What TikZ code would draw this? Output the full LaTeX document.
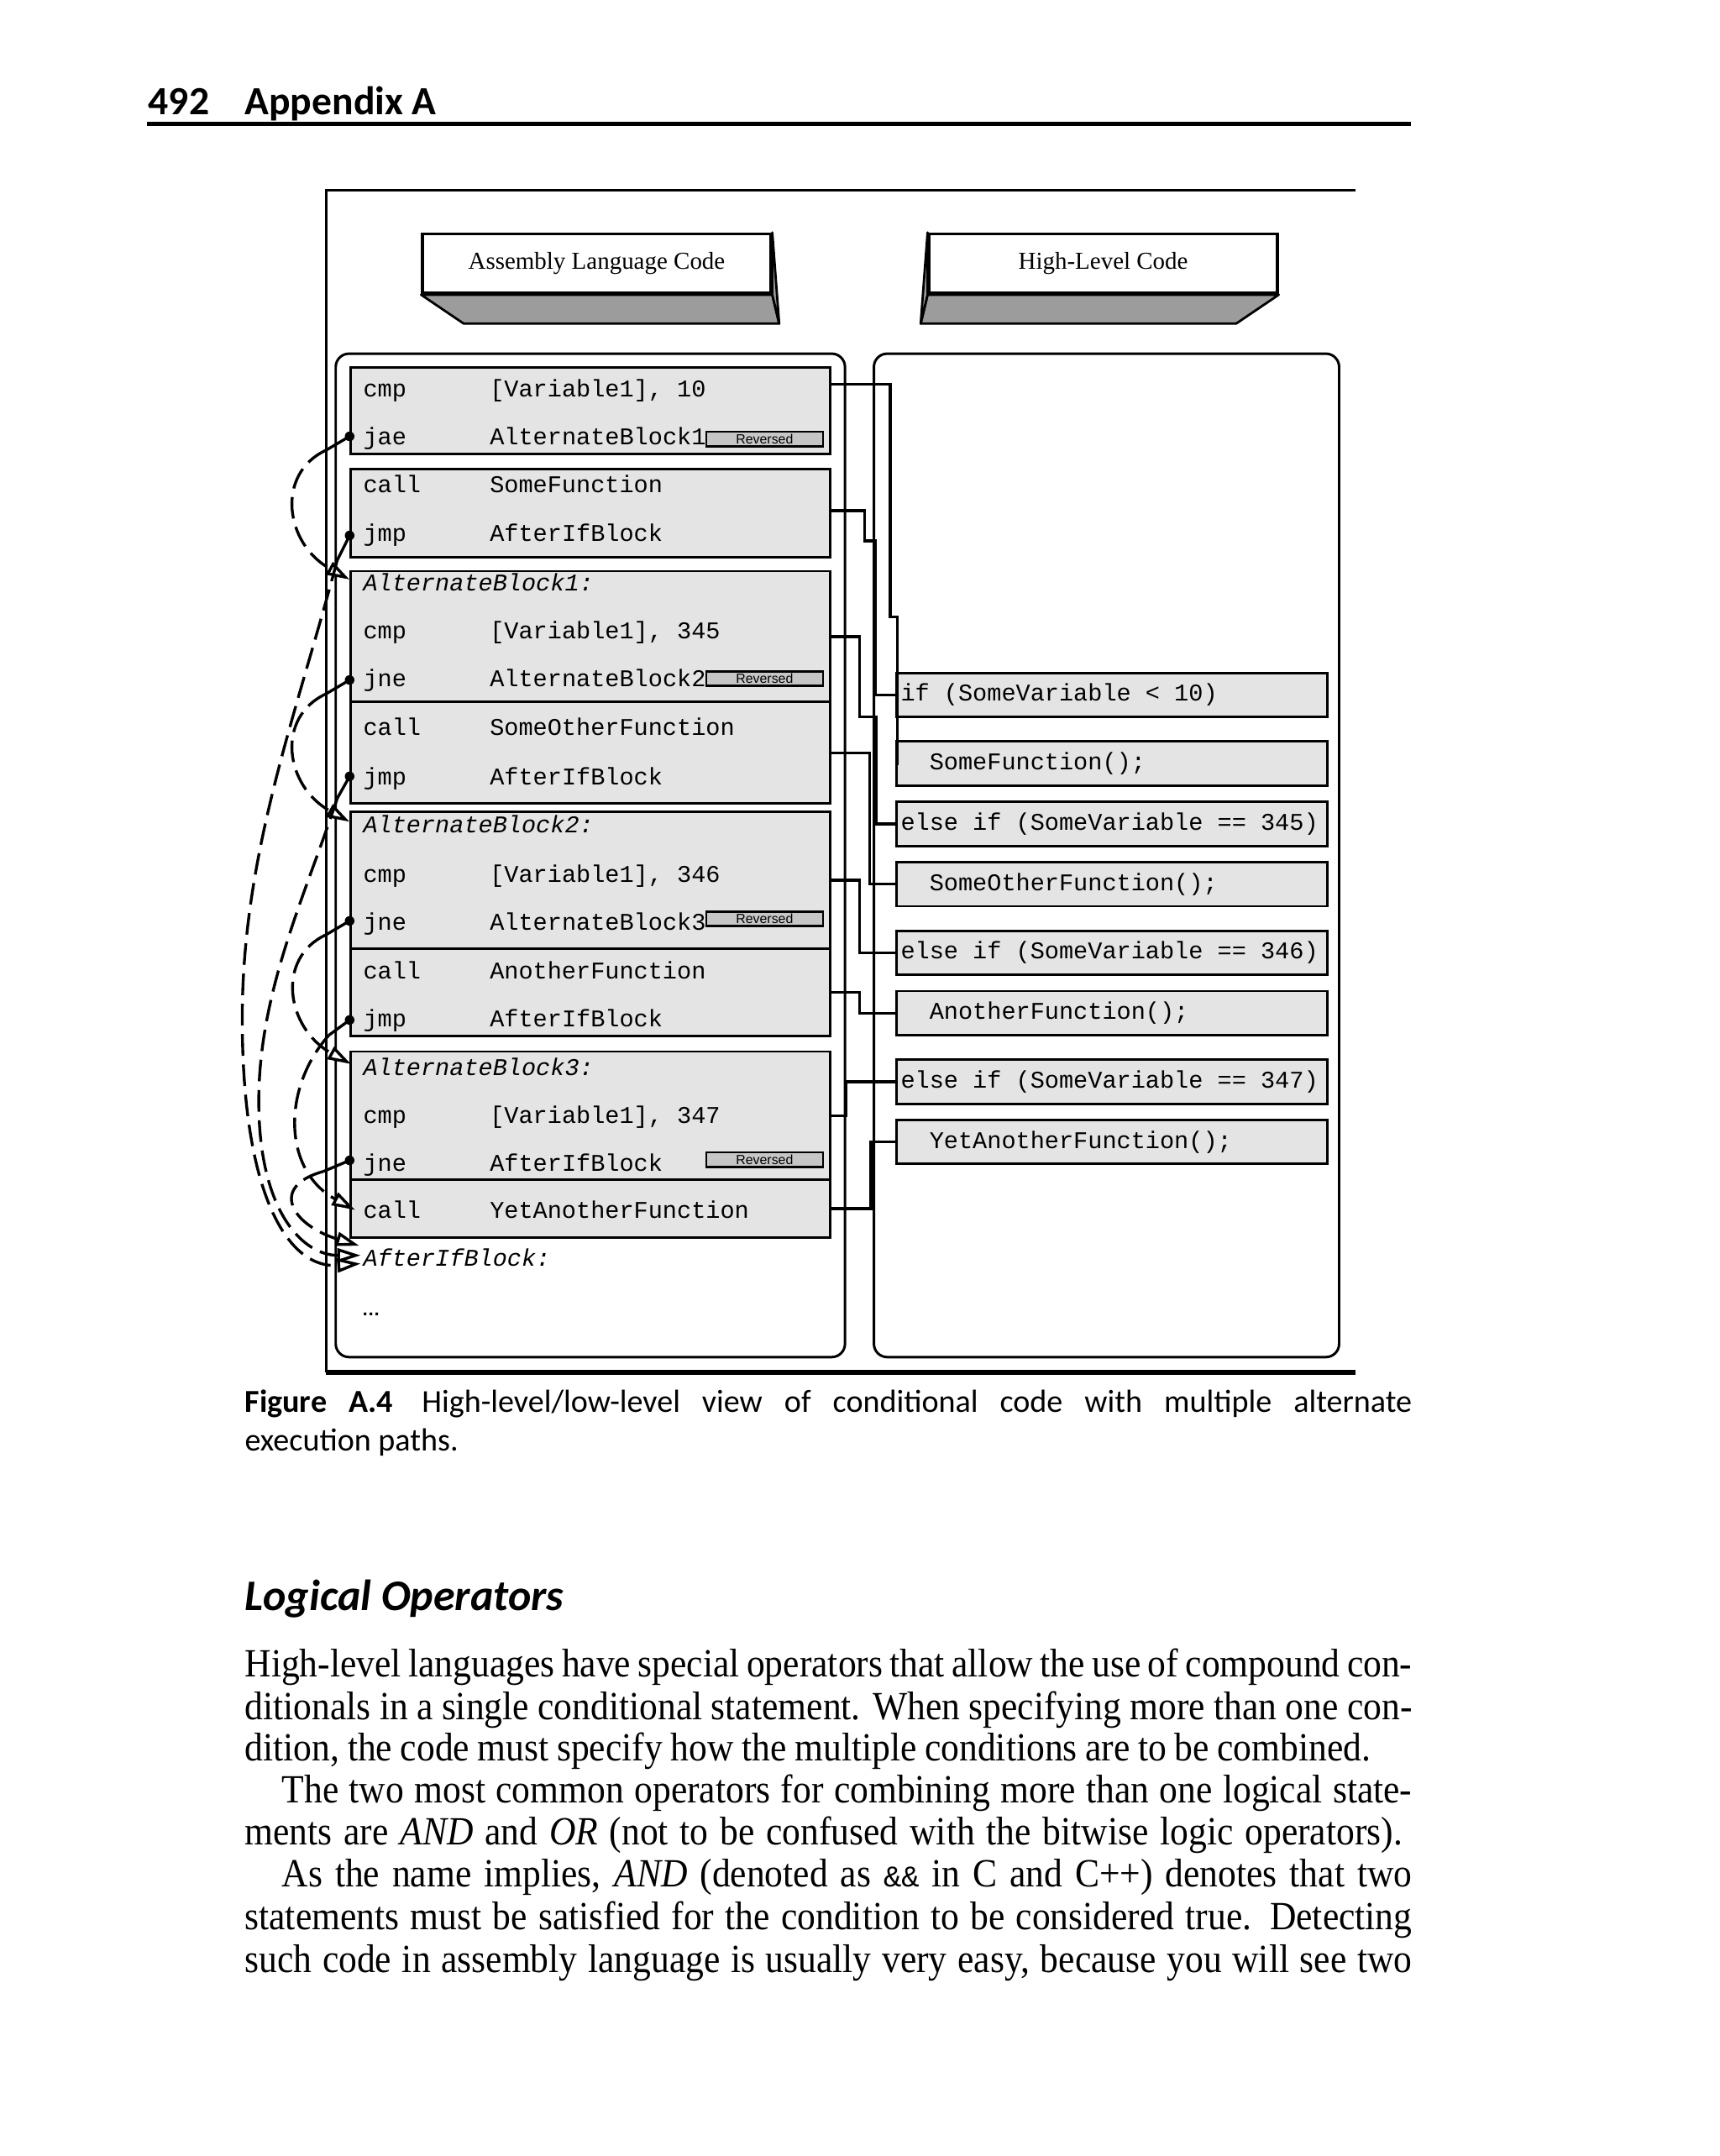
\documentclass[tikz,border=0pt]{standalone}
\usepackage{fontspec}
\setmainfont{Liberation Serif}
\setmonofont{Liberation Mono}
\newfontfamily\capfont{Carlito}
\newfontfamily\tabfont{Liberation Sans}
\newfontfamily\bodyfont[FakeStretch=0.915]{Liberation Serif}
\usepackage{xcolor}
\usetikzlibrary{arrows.meta,positioning}

\newlength{\un}
\setlength{\un}{0.413pt}

\definecolor{boxgray}{HTML}{E4E4E4}
\definecolor{tabgray}{HTML}{C6C6C6}
\definecolor{shadegray}{HTML}{9C9C9C}

\begin{document}
\begin{tikzpicture}[x=\un, y=-\un, line width=0.75pt]
    \tikzstyle{every node}=[inner sep=0pt]
    \tikzstyle{panel}=[draw, rounded corners=4pt, anchor=north west]
    \tikzstyle{headbox}=[draw, fill=white, line width=0.9pt, minimum width=253\un, minimum height=43\un, font=\fontsize{7.3}{9}\selectfont]
    \tikzstyle{shade}=[fill=shadegray, draw, line width=0.7pt, line join=round]
    \tikzstyle{block}=[draw, fill=boxgray, anchor=north west, minimum width=348\un]
    \tikzstyle{asm}=[anchor=base west, font=\fontsize{7.2}{8}\selectfont\ttfamily]
    \tikzstyle{asmlabel}=[asm, font=\fontsize{7.2}{8}\selectfont\ttfamily\itshape]
    \tikzstyle{revtab}=[draw, line width=0.6pt, fill=tabgray, minimum width=85\un, minimum height=10.5\un, font=\tabfont\fontsize{4}{4}\selectfont]
    \tikzstyle{hlbox}=[draw, fill=boxgray, minimum height=32\un, inner xsep=3\un, font=\fontsize{7.2}{8}\selectfont\ttfamily]
    \tikzstyle{jdot}=[circle, fill, minimum size=7\un]
    \tikzstyle{stub}=[line width=0.85pt]
    \tikzstyle{jump}=[line width=0.85pt, dash pattern=on 6.5pt off 2.6pt, -{Triangle[length=7pt, width=4.2pt, fill=white]}]
    \tikzstyle{wire}=[line width=0.85pt]
    \tikzstyle{textline}=[anchor=base west, font=\bodyfont\fontsize{12}{14}\selectfont]

    \fill[white] (0,0) rectangle (1249.6,1566.3);
    \useasboundingbox (0,0) rectangle (1249.6,1566.3);

    % running head
    \node[anchor=base west, font=\capfont\bfseries\fontsize{12}{14}\selectfont] (pagehead) at (107,83) {\makebox[70\un][l]{492}Appendix A};
    \draw[line width=1.2pt] (107,90) -- (1025,90);

    % figure frame
    \draw (985,138) -- (237,138) -- (237,997);
    \draw[line width=1.4pt] (237,997) -- (985,997);

    \node[headbox] (asmhead) at (433.5,191.5) {Assembly Language Code};
    \node[headbox] (hlhead) at (801.5,191.5) {High-Level Code};
    \filldraw[shade] (asmhead.south west) -- (asmhead.south east) -- ([shift={(5,21)}]asmhead.south east) -- ([shift={(31,21)}]asmhead.south west) -- cycle;
    \filldraw[shade] (asmhead.north east) -- ([shift={(5,21)}]asmhead.south east) -- (asmhead.south east) -- cycle;
    \filldraw[shade] (hlhead.south west) -- (hlhead.south east) -- ([shift={(-31,21)}]hlhead.south east) -- ([shift={(-5,21)}]hlhead.south west) -- cycle;
    \filldraw[shade] (hlhead.north west) -- ([shift={(-5,21)}]hlhead.south west) -- (hlhead.south west) -- cycle;

    \node[panel, minimum width=370\un, minimum height=729\un] (asmpanel) at (243,256) {};
    \node[panel, minimum width=338\un, minimum height=729\un] (hlpanel) at (634,256) {};

    % assembly blocks
    \node[block, minimum height=63\un] (b1) at (254,266) {};
    \node[block, minimum height=64\un] (b2) at (254,340) {};
    \node[block, minimum height=95\un] (b3) at (254,414) {};
    \node[block, minimum height=74\un] (b4) at (254,509) {};
    \node[block, minimum height=99\un] (b5) at (254,589) {};
    \node[block, minimum height=64\un] (b6) at (254,688) {};
    \node[block, minimum height=93\un] (b7) at (254,763) {};
    \node[block, minimum height=42\un] (b8) at (254,856) {};

    \node[asm] (i1) at (263,288) {\makebox[92\un][l]{cmp}[Variable1], 10};
    \node[asm] (i2) at (263,323) {\makebox[92\un][l]{jae}AlternateBlock1};
    \node[asm] (i3) at (263,358) {\makebox[92\un][l]{call}SomeFunction};
    \node[asm] (i4) at (263,393) {\makebox[92\un][l]{jmp}AfterIfBlock};
    \node[asmlabel] (lab1) at (263,429) {AlternateBlock1:};
    \node[asm] (i5) at (263,464) {\makebox[92\un][l]{cmp}[Variable1], 345};
    \node[asm] (i6) at (263,499) {\makebox[92\un][l]{jne}AlternateBlock2};
    \node[asm] (i7) at (263,534) {\makebox[92\un][l]{call}SomeOtherFunction};
    \node[asm] (i8) at (263,570) {\makebox[92\un][l]{jmp}AfterIfBlock};
    \node[asmlabel] (lab2) at (263,605) {AlternateBlock2:};
    \node[asm] (i9) at (263,641) {\makebox[92\un][l]{cmp}[Variable1], 346};
    \node[asm] (i10) at (263,676) {\makebox[92\un][l]{jne}AlternateBlock3};
    \node[asm] (i11) at (263,711) {\makebox[92\un][l]{call}AnotherFunction};
    \node[asm] (i12) at (263,746) {\makebox[92\un][l]{jmp}AfterIfBlock};
    \node[asmlabel] (lab3) at (263,781) {AlternateBlock3:};
    \node[asm] (i13) at (263,816) {\makebox[92\un][l]{cmp}[Variable1], 347};
    \node[asm] (i14) at (263,851) {\makebox[92\un][l]{jne}AfterIfBlock};
    \node[asm] (i15) at (263,885) {\makebox[92\un][l]{call}YetAnotherFunction};
    \node[asmlabel] (lab4) at (263,920) {AfterIfBlock:};
    \node[anchor=base west, font=\tabfont\bfseries\fontsize{5.5}{6}\selectfont] (more) at (262,956) {\dots};

    \node[revtab] (rev1) at (555.5,319) {Reversed};
    \node[revtab] (rev2) at (555.5,493) {Reversed};
    \node[revtab] (rev3) at (555.5,667.5) {Reversed};
    \node[revtab] (rev4) at (555.5,842.5) {Reversed};

    % high-level statements
    \node[hlbox, anchor=north west] (h1) at (650.5,488) {\makebox[307\un][l]{if (SomeVariable < 10)}};
    \node[hlbox, below=16\un of h1] (h2) {\makebox[307\un][l]{\phantom{xx}SomeFunction();}};
    \node[hlbox, below=10\un of h2] (h3) {\makebox[307\un][l]{else if (SomeVariable == 345)}};
    \node[hlbox, below=10\un of h3] (h4) {\makebox[307\un][l]{\phantom{xx}SomeOtherFunction();}};
    \node[hlbox, below=16\un of h4] (h5) {\makebox[307\un][l]{else if (SomeVariable == 346)}};
    \node[hlbox, below=10\un of h5] (h6) {\makebox[307\un][l]{\phantom{xx}AnotherFunction();}};
    \node[hlbox, below=16\un of h6] (h7) {\makebox[307\un][l]{else if (SomeVariable == 347)}};
    \node[hlbox, below=10\un of h7] (h8) {\makebox[307\un][l]{\phantom{xx}YetAnotherFunction();}};

    \draw[wire] ([yshift=-13\un]b1.north east) -- ++(43,0) |- ++(5,169) |- (h2.west);
    \draw[wire] ([yshift=2\un]b2.east) -- ++(24.5,0) |- ++(7.5,22) |- (h1.west);
    \draw[wire] (b3.east) -- ++(20.7,0) |- ++(12.3,58.5) |- (h3.west);
    \draw[wire] (b4.east) -- ++(28,0) |- (h4.west);
    \draw[wire] (b5.east) -- ++(20.5,0) |- (h5.west);
    \draw[wire] (b6.east) -- ++(20.5,0) |- (h6.west);
    \draw[wire] (b7.east) -- ++(10.6,0) |- (h7.west);
    \draw[wire] (b8.east) -- ++(29,0) |- (h8.west);

    % jumps
    \node[jdot] (d1) at (254,317) {};
    \node[jdot] (d2) at (254,389) {};
    \node[jdot] (d3) at (254,494) {};
    \node[jdot] (d4) at (254,564) {};
    \node[jdot] (d5) at (254,669) {};
    \node[jdot] (d6) at (254,741) {};
    \node[jdot] (d7) at (254,843) {};
    \coordinate (t1) at (254,421);
    \coordinate (t2) at (262,918);
    \coordinate (t3) at (254,597);
    \coordinate (t4) at (262,912);
    \coordinate (t5) at (255,773);
    \coordinate (t6) at (258,879);
    \coordinate (t7) at (261,905);

    \draw[stub] (d1.center) -- ++(-17,10) coordinate (s1);
    \draw[stub] (d2.center) -- ++(-9,18) coordinate (s2);
    \draw[stub] (d3.center) -- ++(-17,10) coordinate (s3);
    \draw[stub] (d4.center) -- ++(-9,16) coordinate (s4);
    \draw[stub] (d5.center) -- ++(-17,10) coordinate (s5);
    \draw[stub] (d6.center) -- ++(-15,11) coordinate (s6);
    \draw[stub] (d7.center) -- ++(-19,8) coordinate (s7);

    \draw[jump] (s1) .. controls +(-37,17) and +(-47,-26) .. (t1);
    \draw[jump] (s3) .. controls +(-37,17) and +(-47,-26) .. (t3);
    \draw[jump] (s5) .. controls +(-37,17) and +(-47,-26) .. (t5);
    \draw[jump] (s2) .. controls (215,520) and (176,620) .. (176,740) .. controls (176,870) and (210,922) .. (t2);
    \draw[jump] (s4) .. controls (222,650) and (188,720) .. (188,800) .. controls (188,880) and (220,912) .. (t4);
    \draw[jump] (s6) .. controls (205,790) and (205,850) .. (t6);
    \draw[jump] (s7) .. controls (195,862) and (212,890) .. (t7);

    % caption
    \node[anchor=base west, font=\capfont\fontsize{9.6}{11}\selectfont] (cap1) at (177,1026) {\makebox[848\un][s]{\textbf{Figure A.4}\hspace{0.9em}High-level/low-level view of conditional code with multiple alternate}};
    \node[anchor=base west, font=\capfont\fontsize{9.6}{11}\selectfont] (cap2) at (177,1054) {execution paths.};

    % text below
    \node[anchor=base west, font=\capfont\bfseries\itshape\fontsize{13.1}{16}\selectfont] (sechead) at (177,1170) {Logical Operators};
    \node[textline] (p1) at (177,1218) {\makebox[848\un][s]{High-level languages have special operators that allow the use of compound con-}};
    \node[textline] (p2) at (177,1249) {\makebox[848\un][s]{ditionals in a single conditional statement. When specifying more than one con-}};
    \node[textline] (p3) at (177,1279) {\makebox[818\un][s]{dition, the code must specify how the multiple conditions are to be combined.}};
    \node[textline] (p4) at (204,1310) {\makebox[821\un][s]{The two most common operators for combining more than one logical state-}};
    \node[textline] (p5) at (177,1340) {\makebox[841\un][s]{ments are \textit{AND} and \textit{OR} (not to be confused with the bitwise logic operators).}};
    \node[textline] (p6) at (204,1371) {\makebox[821\un][s]{As the name implies, \textit{AND} (denoted as {\ttfamily\fontsize{9}{10}\selectfont\&\&} in C and C++) denotes that two}};
    \node[textline] (p7) at (177,1402) {\makebox[848\un][s]{statements must be satisfied for the condition to be considered true. Detecting}};
    \node[textline] (p8) at (177,1433) {\makebox[848\un][s]{such code in assembly language is usually very easy, because you will see two}};
\end{tikzpicture}
\end{document}
